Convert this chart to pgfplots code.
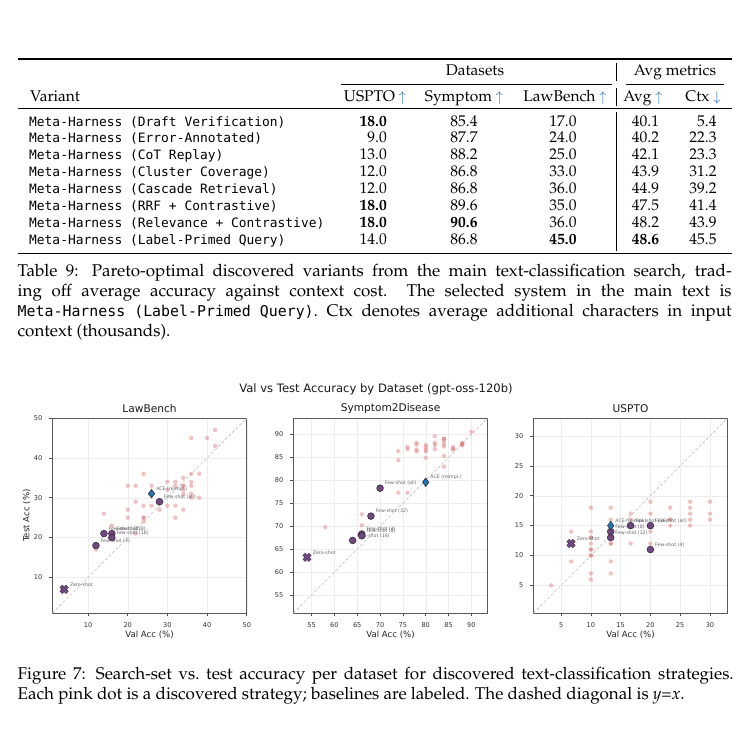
\documentclass[border=0pt]{standalone}
\usepackage[T1]{fontenc}
\usepackage{fontspec}
\usepackage{pgfplots}
\pgfplotsset{compat=1.18}
\newfontfamily\dejavu{DejaVu Sans}
\newfontfamily\dvmono{DejaVu Sans Mono}
\newcommand\pal{\fontencoding{T1}\fontfamily{ppl}\selectfont}
\newcommand\tabfont{\pal\fontsize{15.5}{17}\selectfont}
\newcommand\tabmono{\dvmono\fontsize{12.9}{17}\selectfont}
\newcommand\capfont{\pal\fontsize{17}{20}\selectfont}
\newcommand\capmono{\dvmono\fontsize{14.9}{20}\selectfont}

\definecolor{pinkc}{RGB}{222,110,110}
\definecolor{purp}{RGB}{112,72,128}
\definecolor{purpedge}{RGB}{45,30,50}
\definecolor{aceblue}{RGB}{31,119,180}
\definecolor{arrowblue}{RGB}{40,110,175}

% one table row: baseline, name, USPTO, Symptom, LawBench, Avg, Ctx
\newcommand\trow[7]{%
  \node[anchor=base west,inner sep=0] at (29pt,-#1pt) {\tabmono #2};
  \node[anchor=base east,inner sep=0] at (387pt,-#1pt) {\tabfont #3};
  \node[anchor=base east,inner sep=0] at (477.7pt,-#1pt) {\tabfont #4};
  \node[anchor=base east,inner sep=0] at (576.7pt,-#1pt) {\tabfont #5};
  \node[anchor=base east,inner sep=0] at (659.3pt,-#1pt) {\tabfont #6};
  \node[anchor=base east,inner sep=0] at (716.7pt,-#1pt) {\tabfont #7};
}
\newcommand\up{\textcolor{arrowblue}{$\uparrow$}}
\newcommand\down{\textcolor{arrowblue}{$\downarrow$}}

\pgfplotsset{
  panel/.style={
    scale only axis, width=194.5pt, height=195.3pt,
    axis line style={draw=black!65, line width=0.8pt},
    grid=major, grid style={draw=black!7, line width=0.4pt},
    tick align=outside, major tick length=3pt,
    tick style={draw=black!70, line width=0.6pt},
    xtick pos=left, ytick pos=left,
    /pgf/number format/assume math mode=true,
    ticklabel style={font=\dejavu\fontsize{6.6}{7}\selectfont, text=black!80},
    xticklabel style={yshift=-2.5pt},
    yticklabel style={xshift=-3.5pt},
    label style={font=\dejavu\fontsize{8.6}{10}\selectfont, text=black!85},
    xlabel style={at={(axis description cs:0.5,-0.1086)}, anchor=center},
    ylabel style={at={(axis description cs:-0.1317,0.5)}, anchor=center},
    every axis title shift=0pt,
    title style={font=\dejavu\fontsize{10.6}{12}\selectfont, text=black!90,
      at={(axis description cs:0.5,1.048)}, anchor=center},
  },
  pinkdots/.style={only marks, mark=*, mark size=2.2pt, color=pinkc,
    draw opacity=0, fill opacity=0.42},
  basedots/.style={only marks, mark=*, mark size=3.4pt,
    mark options={draw=purpedge, fill=purp, line width=0.5pt}},
  xedge/.style={only marks, mark=x, mark size=4.5pt,
    mark options={draw=purpedge, line width=3.7pt}},
  xfill/.style={only marks, mark=x, mark size=4.3pt,
    mark options={draw=purp, line width=2.7pt}},
  acemark/.style={only marks, mark=diamond*, mark size=4.3pt,
    mark options={draw=purpedge, fill=aceblue, line width=0.5pt}},
  blabel/.style={nodes near coords, point meta=explicit symbolic,
    every node near coord/.style={anchor=base west, xshift=4.5pt, yshift=3.2pt,
      font=\dejavu\fontsize{4.7}{5}\selectfont, text=black!60, inner sep=0pt}},
  diag/.style={draw=black!25, line width=0.6pt, dash pattern=on 3pt off 2pt},
}

\begin{document}
\begin{tikzpicture}
\fill[white] (0,0) rectangle (754pt,-730pt);
\path[use as bounding box] (0,0) rectangle (754pt,-730pt);

% ---------------- Table 9 ----------------
\draw[line width=1.1pt] (18pt,-59pt) -- (731.5pt,-59pt);
\node[anchor=base,inner sep=0] at (475pt,-75.4pt) {\tabfont Datasets};
\node[anchor=base,inner sep=0] at (675pt,-75.4pt) {\tabfont Avg metrics};
\draw[line width=0.6pt] (341pt,-84.3pt) -- (612pt,-84.3pt);
\draw[line width=0.6pt] (626pt,-84.3pt) -- (724pt,-84.3pt);
\node[anchor=base west,inner sep=0] at (29.8pt,-102pt) {\tabfont Variant};
\node[anchor=base,inner sep=0] at (375pt,-102pt) {\tabfont USPTO \up};
\node[anchor=base,inner sep=0] at (464pt,-102pt) {\tabfont Symptom \up};
\node[anchor=base,inner sep=0] at (565pt,-102pt) {\tabfont LawBench \up};
\node[anchor=base,inner sep=0] at (643pt,-102pt) {\tabfont Avg \up};
\node[anchor=base,inner sep=0] at (703pt,-102pt) {\tabfont Ctx \down};
\draw[line width=0.7pt] (18pt,-108.3pt) -- (731.5pt,-108.3pt);
\draw[line width=0.6pt] (616.7pt,-63pt) -- (616.7pt,-81pt);
\draw[line width=0.6pt] (616.7pt,-88pt) -- (616.7pt,-106pt);
\draw[line width=0.6pt] (616.7pt,-112pt) -- (616.7pt,-251pt);

\trow{126.1}{Meta-Harness (Draft Verification)}{\bfseries 18.0}{85.4}{17.0}{40.1}{5.4}
\trow{143.0}{Meta-Harness (Error-Annotated)}{9.0}{87.7}{24.0}{40.2}{22.3}
\trow{160.0}{Meta-Harness (CoT Replay)}{13.0}{88.2}{25.0}{42.1}{23.3}
\trow{177.0}{Meta-Harness (Cluster Coverage)}{12.0}{86.8}{33.0}{43.9}{31.2}
\trow{193.9}{Meta-Harness (Cascade Retrieval)}{12.0}{86.8}{36.0}{44.9}{39.2}
\trow{210.9}{Meta-Harness (RRF + Contrastive)}{\bfseries 18.0}{89.6}{35.0}{47.5}{41.4}
\trow{227.8}{Meta-Harness (Relevance + Contrastive)}{\bfseries 18.0}{\bfseries 90.6}{36.0}{48.2}{43.9}
\trow{244.8}{Meta-Harness (Label-Primed Query)}{14.0}{86.8}{\bfseries 45.0}{\bfseries 48.6}{45.5}
\draw[line width=1.1pt] (18pt,-253.3pt) -- (731.5pt,-253.3pt);

\node[anchor=base west,inner sep=0] at (17.5pt,-276.5pt) {\capfont\makebox[714pt][s]{Table 9: Pareto-optimal discovered variants from the main text-classification search, trad-}};
\node[anchor=base west,inner sep=0] at (17.5pt,-296.5pt) {\capfont\makebox[714pt][s]{ing off average accuracy against context cost.\ \ The selected system in the main text is}};
\node[anchor=base west,inner sep=0] at (17.5pt,-316.5pt) {\capfont\makebox[714pt][s]{\mbox{\capmono Meta-Harness (Label-Primed Query)}.\ Ctx denotes average additional characters in input}};
\node[anchor=base west,inner sep=0] at (17.5pt,-336.5pt) {\capfont context (thousands).};

% ---------------- Figure 7 ----------------
\node[inner sep=0] at (376pt,-389pt) {\dejavu\fontsize{11.6}{13}\selectfont\color{black!90} Val vs Test Accuracy by Dataset (gpt-oss-120b)};

\begin{axis}[panel, at={(52.3pt,-613.3pt)}, anchor=south west,
  xmin=1, xmax=50, ymin=1, ymax=50,
  xtick={10,20,30,40,50}, ytick={10,20,30,40,50},
  title={LawBench}, xlabel={Val Acc (\%)}, ylabel={Test Acc (\%)}]
\addplot[diag] coordinates {(1,1) (50,50)};
\addplot[pinkdots] coordinates {
 (42,47) (36,45) (40,45) (42,43) (24,36) (36,36) (38,36) (30,34) (32,34) (34,35)
 (36,34) (20,33) (22,33) (26,33) (32,33) (34,33) (34,33) (36,33) (30,32) (34,32)
 (34,31) (36,31) (36,30) (38,30) (22,29) (20,27) (24,28) (26,28) (28,27) (30,28)
 (32,28) (34,27) (20,25) (24,25) (24,25) (24,24) (32,25) (14,26) (16,23) (22,21)
 (12,17)};
\addplot[xedge] coordinates {(4,7)};
\addplot[xfill, blabel] table[meta=l] {
x y l
4 7 Zero-shot
};
\addplot[basedots, blabel] table[meta=l] {
x y l
12 18 {Few-shot (4)}
14 21 {Few-shot (32)}
16 21 {Few-shot (8)}
16 20 {Few-shot (16)}
28 29 {Few-shot (all)}
};
\addplot[acemark, blabel] table[meta=l] {
x y l
26 31 {ACE (reimpl.)}
};
\end{axis}

\begin{axis}[panel, at={(293.3pt,-613.3pt)}, anchor=south west,
  xmin=51, xmax=93.6, ymin=51, ymax=93.6,
  xtick={55,60,...,90}, ytick={55,60,...,90},
  title={Symptom2Disease}, xlabel={Val Acc (\%)}]
\addplot[diag] coordinates {(51,51) (93.6,93.6)};
\addplot[pinkdots] coordinates {
 (90,90.6) (82,89.6) (84,89.1) (84,89.1) (84,88.6) (84,87.9) (84,87.4) (84,85.3)
 (84,83.0) (82,88.2) (82,87.7) (82,86.8) (80,87.7) (80,87.3) (80,86.7) (80,86.3)
 (80,84.9) (78,88.2) (78,87.8) (78,86.7) (78,86.3) (76,87.3) (76,86.8) (76,77.3)
 (74,86.4) (74,84.4) (74,77.3) (86,87.3) (86,86.8) (86,86.8) (88,88.2) (88,87.9)
 (88,87.9) (88,87.6) (58,69.8) (66,72.6) (66,70.2)};
\addplot[xedge] coordinates {(54,63.2)};
\addplot[xfill, blabel] table[meta=l] {
x y l
54 63.2 Zero-shot
};
\addplot[basedots, blabel] table[meta=l] {
x y l
64 66.9 {Few-shot (16)}
66 68.3 {Few-shot (4)}
66 67.9 {Few-shot (8)}
68 72.2 {Few-shot (32)}
70 78.3 {Few-shot (all)}
};
\addplot[acemark, blabel] table[meta=l] {
x y l
80 79.6 {ACE (reimpl.)}
};
\end{axis}

\begin{axis}[panel, at={(533.3pt,-613.3pt)}, anchor=south west,
  xmin=0.33, xmax=33, ymin=0.33, ymax=33,
  xtick={5,10,...,30}, ytick={5,10,...,30},
  title={USPTO}, xlabel={Val Acc (\%)}]
\addplot[diag] coordinates {(0.33,0.33) (33,33)};
\addplot[pinkdots] coordinates {
 (3.33,5) (6.67,14) (6.67,9) (10,18) (10,14) (10,13) (10,13) (10,12) (10,11) (10,11)
 (10,10) (10,10) (10,7) (10,6) (13.33,18) (13.33,16) (13.33,12) (13.33,12) (13.33,9)
 (13.33,7) (16.67,17) (16.67,16) (16.67,12) (20,19) (20,17) (20,14) (20,12)
 (23.33,18) (23.33,16) (23.33,16) (23.33,15) (26.67,19) (26.67,18) (26.67,17)
 (26.67,16) (26.67,15) (30,19) (30,17) (30,16)};
\addplot[xedge] coordinates {(6.67,12)};
\addplot[xfill, blabel] table[meta=l] {
x y l
6.67 12 Zero-shot
};
\addplot[basedots, blabel] table[meta=l] {
x y l
13.33 14 {Few-shot (8)}
13.33 13 {Few-shot (32)}
16.67 15 {Few-shot (16)}
20 15 {Few-shot (all)}
20 11 {Few-shot (4)}
};
\addplot[acemark, blabel] table[meta=l] {
x y l
13.33 15 {ACE (reimpl.)}
};
\end{axis}

\node[anchor=base west,inner sep=0] at (17.5pt,-679.5pt) {\capfont\makebox[716pt][s]{Figure 7: Search-set vs.\ test accuracy per dataset for discovered text-classification strategies.}};
\node[anchor=base west,inner sep=0] at (17.5pt,-699.5pt) {\capfont Each pink dot is a discovered strategy; baselines are labeled. The dashed diagonal is \textit{y}=\textit{x}.};
\end{tikzpicture}
\end{document}
